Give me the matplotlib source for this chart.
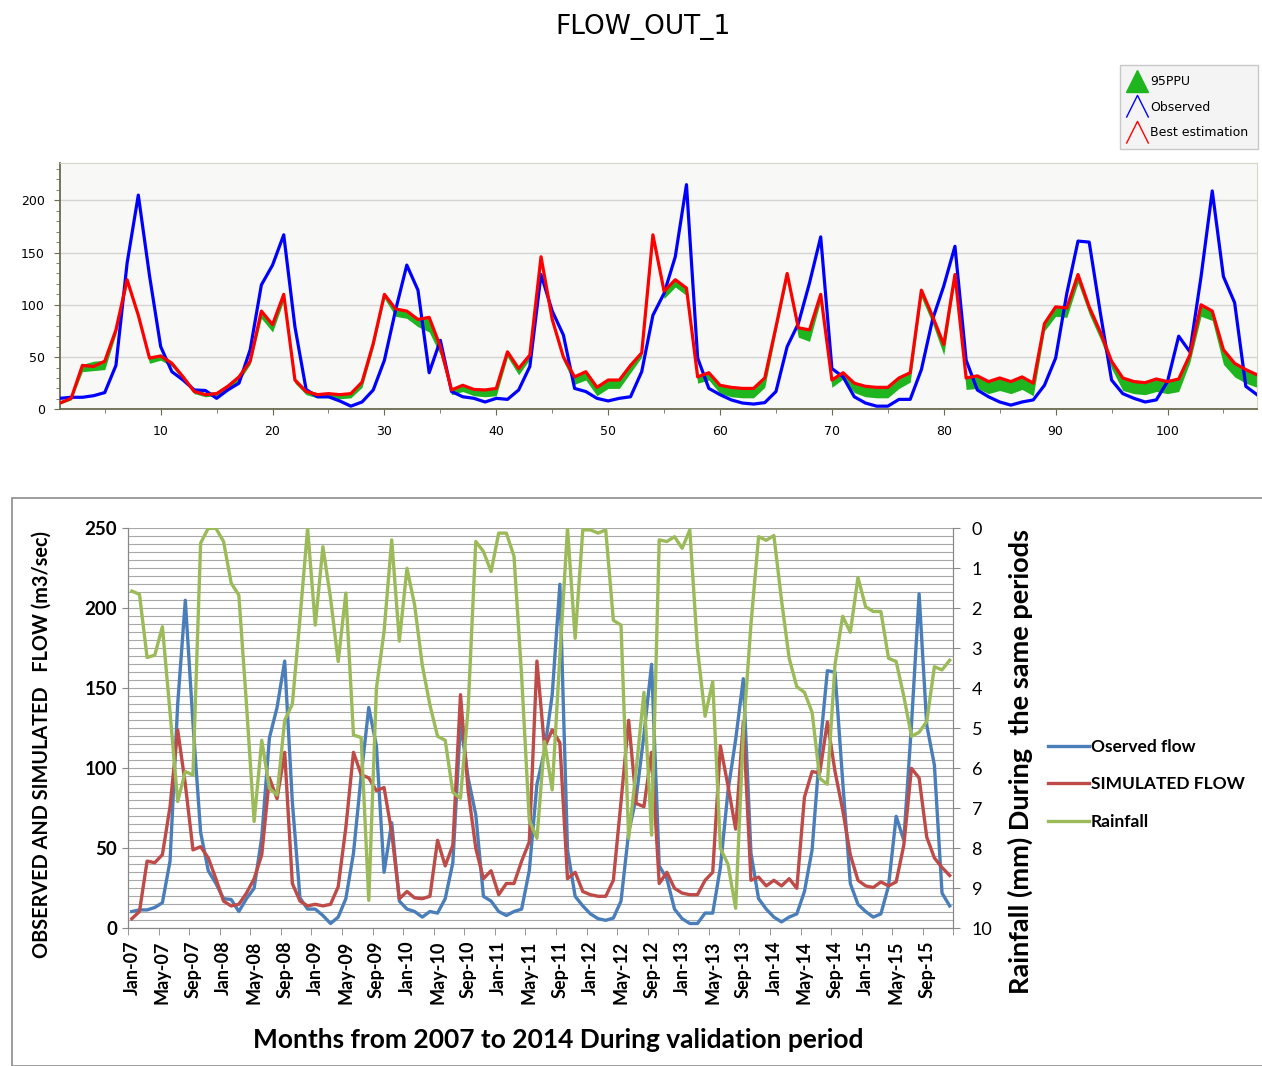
import numpy as np
import matplotlib
matplotlib.use("Agg")
import matplotlib.pyplot as plt
from matplotlib.lines import Line2D
from matplotlib.patches import Rectangle

# monthly values, Jan-2007 .. Dec-2015 (108 months)
observed = [10.5, 11.5, 11.5, 13, 16, 42, 140, 205, 128, 60,
            36, 28, 18.5, 18, 10.5, 18.5, 25, 57, 119, 138,
            167, 79, 19, 12, 12, 8, 3, 7, 18.5, 47,
            95, 138, 114, 35, 66, 17, 12, 10.5, 7, 10.5,
            9.5, 18.5, 41, 129, 94, 71, 20, 17, 10.5, 8,
            10.5, 12, 36, 90, 111, 146, 215, 49, 20, 14,
            9, 6, 5, 6.4, 17, 60, 82, 121, 165, 39,
            31, 12, 6, 3, 3, 9.5, 9.5, 38, 86, 118,
            156, 47, 18.5, 12, 7, 4, 7, 9, 23, 49,
            111, 161, 160, 92, 28, 15, 10.5, 7, 9, 26.5,
            70, 55, 127, 209, 127, 102, 22, 14]

best_est = [6, 10.5, 42, 41, 46, 76, 124, 90, 49, 51,
            44, 31, 17, 14, 15, 22, 31, 46, 94, 81,
            110, 28, 17, 14, 15, 14, 15, 26, 63, 110,
            96, 94, 86, 88, 60, 18.5, 23, 19, 18.5, 20,
            55, 39, 52, 146, 86, 50, 31, 36, 21, 28,
            28, 42, 54, 167, 113, 124, 116, 31, 35, 23,
            21, 20, 20, 30, 79, 130, 78, 76, 110, 28,
            35, 25, 22, 21, 21, 30, 35, 114, 89, 62,
            129, 30, 32, 26.5, 30, 26.5, 31, 25, 82, 98,
            97, 129, 98, 74, 46, 30, 26.5, 25.5, 29, 26.5,
            29, 52, 100, 94, 57, 44, 38, 33]

ppu_low = [5, 9, 36, 37, 38, 72, 120, 86, 44, 47,
           41, 28, 15, 12, 13, 19, 27, 43, 87, 74,
           104, 25, 14, 11, 11, 10, 11, 21, 59, 106,
           89, 87, 79, 74, 52, 14, 17, 13, 12, 13,
           50, 33, 48, 140, 82, 46, 24, 28, 13, 20,
           20, 35, 50, 160, 106, 117, 109, 25, 28, 15,
           12, 11, 11, 21, 74, 125, 69, 65, 104, 21,
           29, 16, 12, 11, 11, 20, 26, 107, 82, 52,
           124, 19, 20, 15, 18, 15, 19, 13, 75, 89,
           88, 121, 91, 67, 39, 18, 15, 14, 17, 15,
           17, 45, 89, 85, 43, 31, 25, 21]

ppu_high = [7, 12, 43, 46, 47, 78, 126, 92, 50, 53,
            46, 33, 19, 16, 17, 24, 33, 48, 95, 82,
            111, 30, 19, 16, 16, 15, 16, 28, 65, 111,
            97, 95, 87, 89, 61, 20, 24, 20, 20, 21,
            56, 40, 53, 147, 87, 51, 32, 37, 22, 29,
            29, 43, 55, 168, 114, 125, 117, 32, 36, 24,
            22, 21, 21, 31, 80, 131, 79, 77, 111, 29,
            36, 26, 23, 22, 22, 31, 36, 115, 90, 63,
            130, 31, 33, 28, 31, 28, 32, 26, 83, 99,
            98, 130, 99, 75, 47, 31, 28, 27, 30, 28,
            30, 53, 101, 95, 58, 45, 39, 34]

rainfall = [1.57, 1.65, 3.23, 3.17, 2.46, 4.6, 6.83, 6.08, 6.17, 0.37,
            0.0, 0.0, 0.33, 1.37, 1.67, 4.4, 7.33, 5.3, 6.5, 6.67,
            4.8, 4.4, 2.25, 0.0, 2.42, 0.46, 1.75, 3.33, 1.62, 5.17,
            5.23, 9.3, 4.0, 2.58, 0.29, 2.82, 1.0, 1.92, 3.42, 4.42,
            5.2, 5.3, 6.6, 6.75, 4.5, 0.33, 0.58, 1.08, 0.12, 0.12,
            0.7, 3.7, 7.3, 7.75, 5.33, 6.54, 3.2, 0.0, 2.75, 0.04,
            0.04, 0.12, 0.04, 2.3, 2.42, 7.75, 6.0, 4.1, 7.67, 0.29,
            0.33, 0.21, 0.5, 0.04, 3.0, 4.7, 3.83, 8.0, 8.4, 9.5,
            5.1, 2.4, 0.21, 0.3, 0.18, 1.8, 3.25, 3.96, 4.1, 4.6,
            6.25, 6.4, 3.4, 2.2, 2.6, 1.23, 1.96, 2.08, 2.08, 3.25,
            3.33, 4.2, 5.2, 5.1, 4.83, 3.46, 3.54, 3.3]

month_names = ["Jan", "May", "Sep"]
years = ["07", "08", "09", "10", "11", "12", "13", "14", "15"]
month_labels = [m + "-" + y for y in years for m in month_names]

W, H = 1262, 1066
fig = plt.figure(figsize=(W / 100, H / 100), dpi=100)

# ---------------- top chart (SWAT-CUP style) ----------------
ax1 = fig.add_axes([60 / W, 1 - 409.3 / H, 1197 / W, 246.6 / H])
ax1.set_facecolor("#f8f8f6")
x = np.arange(1, 109)
ax1.fill_between(x, ppu_low, ppu_high, color="#1fb51f", lw=0, zorder=2)
ax1.plot(x, observed, color="#0000ff", lw=2.3, zorder=3)
ax1.plot(x, best_est, color="#ff0000", lw=2.3, zorder=4)
ax1.set_xlim(1, 108)
ax1.set_ylim(0, 236)
ax1.set_xticks(np.arange(10, 101, 10))
ax1.set_xticks(np.arange(5, 108, 5), minor=True)
ax1.set_yticks(np.arange(0, 201, 50))
ax1.set_yticks(np.arange(0, 231, 10), minor=True)
ax1.grid(axis="y", which="major", color="#d4d4d4", lw=1, zorder=1)
ax1.tick_params(which="major", length=4, labelsize=9, color="#6b6b50", pad=7)
ax1.tick_params(which="minor", length=3, color="#6b6b50")
for s in ["left", "bottom"]:
    ax1.spines[s].set_color("#6b6b50")
    ax1.spines[s].set_linewidth(1.3)
for s in ["top", "right"]:
    ax1.spines[s].set_color("#d6d6c8")

fig.text(643 / W, 1 - 27 / H, "FLOW_OUT_1", fontsize=19, ha="center", va="center")

chevron = [(-1, -1), (0, 1), (1, -1)]
h_ppu = Line2D([], [], ls="none", marker="^", markersize=16,
               markerfacecolor="#1fb51f", markeredgecolor="#1fb51f")
h_obs = Line2D([], [], ls="none", marker=chevron, markersize=16,
               markerfacecolor="none", markeredgecolor="#0000ff")
h_best = Line2D([], [], ls="none", marker=chevron, markersize=16,
                markerfacecolor="none", markeredgecolor="#ff0000")
fig.legend([h_ppu, h_obs, h_best], ["95PPU", "Observed", "Best estimation"],
           loc="upper right", bbox_to_anchor=(1258 / W, 1 - 65 / H),
           fontsize=9, frameon=True, fancybox=False, edgecolor="#c8c8c8",
           facecolor="#f4f4f4", framealpha=1, handlelength=1.1,
           handletextpad=0.5, labelspacing=1.0, borderpad=0.8, borderaxespad=0)

# ---------------- bottom chart (Excel style) ----------------
fig.patches.append(Rectangle((12 / W, 0), 1.0, 1 - 498 / H, transform=fig.transFigure,
                             fill=False, edgecolor="#8c8c8c", lw=1.2))

lato = "Lato"
blue, red, green = "#4a7ebb", "#be4b48", "#9bbb59"

ax2 = fig.add_axes([128 / W, 1 - 928.3 / H, 825.5 / W, 400 / H])
i = np.arange(108)
ax2.plot(i, observed, color=blue, lw=2.4, label="Oserved flow")
ax2.plot(i, best_est, color=red, lw=2.4, label="SIMULATED FLOW")
ax2.set_xlim(-0.5, 107.5)
ax2.set_ylim(0, 250)
ax2.set_yticks(np.arange(0, 251, 50))
ax2.set_yticks(np.arange(0, 251, 5), minor=True)
ax2.grid(axis="y", which="both", color="#a8a8a8", lw=0.8)
ax2.set_axisbelow(True)
ax2.set_yticklabels([str(v) for v in range(0, 251, 50)], fontfamily=lato,
                    fontweight="bold", fontsize=13.5)
ax2.tick_params(axis="y", which="major", length=4, color="#888888", pad=4)
ax2.tick_params(axis="y", which="minor", length=0)
ax2.set_xticks(i[::4])
ax2.set_xticklabels(month_labels, rotation=90, fontfamily=lato, fontweight="bold",
                    fontsize=13)
ax2.tick_params(axis="x", which="major", length=0, pad=9)
ax2.set_xticks(list(np.arange(-0.5, 107, 4)) + [107.5], minor=True)
ax2.tick_params(axis="x", which="minor", length=5, color="#888888")
for s in ax2.spines.values():
    s.set_color("#888888")
ax2.spines["top"].set_visible(False)

ax3 = ax2.twinx()
ax3.plot(i, rainfall, color=green, lw=2.4, label="Rainfall")
ax3.set_ylim(10, 0)
ax3.set_yticks(np.arange(0, 11, 1))
ax3.set_yticklabels([str(v) for v in range(11)], fontfamily=lato, fontsize=13)
ax3.tick_params(axis="y", length=5, color="#888888", pad=8)
for s in ax3.spines.values():
    s.set_color("#888888")
ax3.spines["top"].set_visible(False)

fig.text(42 / W, 1 - 744 / H, "OBSERVED AND SIMULATED   FLOW (m3/sec)", rotation=90,
         ha="center", va="center", fontfamily=lato, fontweight="bold", fontsize=14.3)
fig.text(1020 / W, 1 - 762 / H, "Rainfall (mm) During  the same periods", rotation=90,
         ha="center", va="center", fontfamily=lato, fontweight="bold", fontsize=19.5)
fig.text(558 / W, 1 - 1040 / H, "Months from 2007 to 2014 During validation period",
         ha="center", va="center", fontfamily=lato, fontweight="bold", fontsize=19)

handles = ax2.get_lines() + ax3.get_lines()
fig.legend(handles, [h.get_label() for h in handles], loc="upper left",
           bbox_to_anchor=(1032 / W, 1 - 723 / H), frameon=False,
           prop={"family": lato, "weight": "bold", "size": 12.5},
           handlelength=2.4, handletextpad=0.1, labelspacing=1.25)

fig.savefig("out.png", dpi=100)
